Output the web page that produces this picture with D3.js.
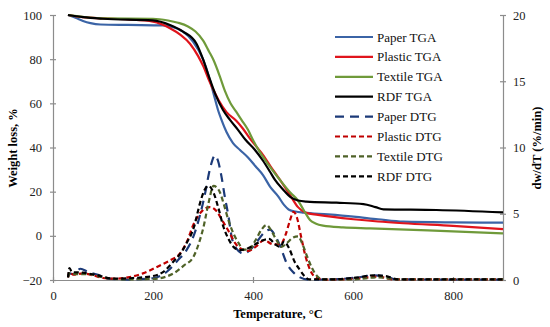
<!DOCTYPE html>
<html><head><meta charset="utf-8">
<script src="https://cdn.jsdelivr.net/npm/d3@7"></script>
<style>body{margin:0;background:#fff}svg{display:block}</style>
</head><body><svg id="c" width="550" height="327"></svg>
<script>
// ---- data (temperature °C, value) ----
const paperTGA = [[30,100],[45,98.8],[60,97.3],[75,96.3],[95,95.7],[150,95.5],[220,95.3],[240,94.5],[260,92.5],[280,88],[300,80],[312,72],[321,64.5],[330,57],[337,52.5],[347,47],[360,42],[374,38.9],[390,35.5],[405,31.5],[420,27.5],[434,22.3],[450,18],[462,14],[472,11.8],[485,11],[501,10.5],[550,9.7],[601,8.7],[650,7.5],[701,6.4],[800,6.1],[900,6]];
const plasticTGA = [[30,100],[60,99],[100,98.5],[150,98],[200,97],[234,94],[255,91],[274,87],[290,81.5],[301,76.6],[311,71],[321,66],[331,61.5],[347,56],[367,52],[380,48.5],[394,44],[417,37.5],[435,31.5],[454,25.3],[474,18.5],[490,13],[505,10.5],[530,9.5],[601,7.5],[650,6.5],[701,5.7],[800,4.5],[900,3]];
const textileTGA = [[30,100],[100,98.5],[200,98.3],[230,97.5],[250,96.5],[270,94.8],[285,92.5],[300,88.5],[312,83.5],[321,79.6],[334,72],[344,65.5],[355,60],[367,56],[377,52.5],[390,48],[400,43.4],[411,38.9],[430,32.5],[454,25.3],[475,19.5],[490,16],[503,11],[514,7.2],[525,5.6],[540,4.6],[580,3.8],[634,3.4],[750,2.5],[900,1.1]];
const rdfTGA = [[30,100],[60,99],[100,98.3],[200,97.6],[234,95.5],[260,92.5],[287,87],[300,80],[312,72],[324,64.5],[340,57],[354,52.5],[370,48],[385,43.5],[404,38.9],[420,34],[434,29],[444,25.3],[460,21],[475,17.5],[490,16],[507,15.5],[567,15],[621,14.4],[645,13],[661,12],[767,11.7],[900,10.6]];

const paperDTG = [[30,0.2],[33,0.5],[40,0.45],[55,0.85],[70,0.6],[90,0.4],[110,0.1],[150,0.03],[200,0.13],[230,0.7],[250,1.5],[267,2.26],[282,3.4],[294,4.9],[304,6.5],[314,8.4],[324,9.4],[330,9.0],[337,7.8],[344,6.2],[351,4.8],[357,3.3],[366,2.4],[381,2.0],[395,2.3],[410,3.0],[423,3.6],[434,3.8],[445,3.3],[455,2.5],[467,1.3],[480,0.6],[494,0.2],[510,0.03],[560,0.05],[610,0.2],[640,0.35],[665,0.3],[685,0.05],[900,0.02]];
const plasticDTG = [[30,0.2],[33,0.6],[40,0.4],[60,0.5],[80,0.35],[100,0.15],[125,0.1],[150,0.2],[180,0.5],[214,1.1],[235,1.5],[254,2.0],[268,2.9],[281,4.2],[298,5.2],[314,5.5],[327,5.2],[340,4.4],[354,3.5],[364,2.8],[374,2.4],[390,2.2],[405,2.5],[422,3.0],[440,2.7],[455,2.7],[465,3.4],[474,4.5],[481,5.15],[488,4.7],[496,3.3],[505,1.8],[515,0.7],[527,0.15],[545,0.03],[600,0.08],[650,0.25],[680,0.05],[900,0.05]];
const textileDTG = [[30,0.2],[33,0.5],[45,0.45],[70,0.45],[100,0.2],[140,0.05],[200,0.08],[241,0.5],[262,1.1],[281,1.76],[292,2.8],[301,4.0],[311,5.8],[321,7.1],[327,7.0],[334,6.6],[341,5.8],[351,4.5],[361,3.5],[371,2.8],[381,2.3],[392,2.3],[405,3.0],[417,3.8],[427,4.15],[437,3.7],[447,3.0],[457,2.5],[468,2.8],[480,3.2],[490,3.3],[499,2.7],[508,1.8],[518,0.9],[528,0.3],[540,0.05],[600,0.05],[650,0.2],[690,0.05],[900,0.05]];
const rdfDTG = [[30,0.2],[33,0.9],[38,0.6],[60,0.55],[90,0.35],[120,0.1],[160,0.15],[200,0.3],[220,0.6],[241,1.4],[255,2.0],[267,2.77],[282,4.0],[294,5.8],[303,6.8],[311,7.1],[321,6.6],[331,5.4],[341,4.0],[351,3.1],[361,2.5],[374,2.26],[390,2.4],[405,2.7],[420,3.0],[432,3.1],[444,2.7],[454,2.5],[462,2.9],[472,2.4],[483,1.4],[494,0.75],[503,0.3],[512,0.05],[560,0.05],[610,0.2],[640,0.35],[665,0.3],[690,0.05],[900,0.05]];

const xTicks = [0,200,400,600,800];
const yLeftTicks = [-20,0,20,40,60,80,100];
const yRightTicks = [0,5,10,15,20];

const seriesNames = ["Paper TGA","Plastic TGA","Textile TGA","RDF TGA","Paper DTG","Plastic DTG","Textile DTG","RDF DTG"];
const seriesData = [paperTGA,plasticTGA,textileTGA,rdfTGA,paperDTG,plasticDTG,textileDTG,rdfDTG];
const seriesColors = ["#3b64a6","#e0141c","#6f9a3a","#000000","#1c3a78","#c00000","#4f6228","#000000"];
const seriesAxis = ["L","L","L","L","R","R","R","R"];
const seriesDash = [null,null,null,null,"9,6","5,3","5,3","5,3"];

// ---- layout ----
const svg = d3.select("#c");
const x = d3.scaleLinear().domain([0,900]).range([53,503]);
const yL = d3.scaleLinear().domain([-20,100]).range([280,15]);
const yR = d3.scaleLinear().domain([0,20]).range([280,15]);
const font = "'Liberation Serif','Times New Roman',serif";
const axisColor = "#8c8c8c";

function styleAxis(g){
  g.attr("font-family",null).style("font-family",font);
  g.select(".domain").attr("stroke",axisColor).attr("stroke-width",1.2);
  g.selectAll(".tick line").attr("stroke",axisColor).attr("stroke-width",1.2);
  g.selectAll(".tick text").style("font-family",font).style("font-size","12.5px").attr("fill","#222");
}

const gx = svg.append("g").attr("transform","translate(0,280)")
  .call(d3.axisBottom(x).tickValues(xTicks).tickSize(3).tickSizeOuter(0).tickPadding(8));
gx.selectAll(".tick line").attr("y1",-3);
styleAxis(gx);

const gl = svg.append("g").attr("transform","translate(53,0)")
  .call(d3.axisLeft(yL).tickValues(yLeftTicks).tickSize(3).tickSizeOuter(0).tickPadding(8));
gl.selectAll(".tick line").attr("x1",3);
styleAxis(gl);

const gr = svg.append("g").attr("transform","translate(503,0)")
  .call(d3.axisRight(yR).tickValues(yRightTicks).tickSize(3).tickSizeOuter(0).tickPadding(7));
gr.selectAll(".tick line").attr("x1",-3);
styleAxis(gr);

// ---- lines ----
seriesData.forEach((data,i)=>{
  const ys = seriesAxis[i]==="L" ? yL : yR;
  const line = d3.line().x(d=>x(d[0])).y(d=>ys(d[1])).curve(d3.curveMonotoneX);
  svg.append("path").datum(data)
    .attr("d",line).attr("fill","none")
    .attr("stroke",seriesColors[i]).attr("stroke-width",2.2)
    .attr("stroke-dasharray",seriesDash[i])
    .attr("stroke-linejoin","round");
});

// ---- legend ----
const lg = svg.append("g");
seriesNames.forEach((n,i)=>{
  const yy = 37 + i*19.9;
  lg.append("line").attr("x1",335).attr("x2",373).attr("y1",yy).attr("y2",yy)
    .attr("stroke",seriesColors[i]).attr("stroke-width",2.2)
    .attr("stroke-dasharray",seriesDash[i]);
  lg.append("text").attr("x",377).attr("y",yy+4.5).text(n)
    .style("font-family",font).style("font-size","13px").attr("fill","#111");
});

// ---- titles ----
svg.append("text").attr("x",278).attr("y",318).attr("text-anchor","middle")
  .style("font-family",font).style("font-size","12.5px").attr("font-weight","bold").text("Temperature, °C");
svg.append("text").attr("transform","translate(17,148) rotate(-90)").attr("text-anchor","middle")
  .style("font-family",font).style("font-size","12.5px").attr("font-weight","bold").text("Weight loss, %");
svg.append("text").attr("transform","translate(541,148) rotate(-90)").attr("text-anchor","middle")
  .style("font-family",font).style("font-size","12.5px").attr("font-weight","bold").text("dw/dT (%/min)");
</script></body></html>
